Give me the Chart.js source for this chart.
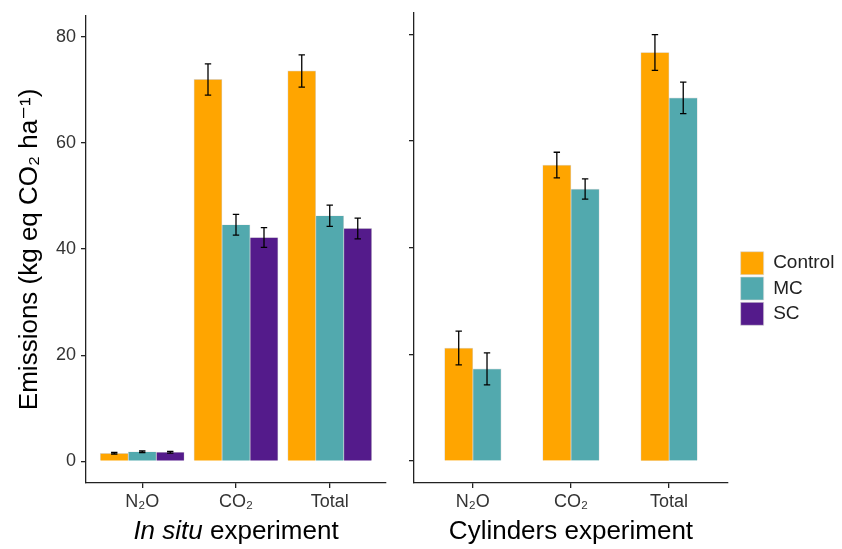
<!DOCTYPE html>
<html>
<head>
<meta charset="utf-8">
<script src="https://cdn.jsdelivr.net/npm/chart.js@4.4.1/dist/chart.umd.min.js"></script>
<style>
  html, body { margin: 0; padding: 0; background: #fff; }
  #wrap { position: relative; width: 842px; height: 549px; }
  #wrap div { position: absolute; top: 0; height: 549px; }
</style>
</head>
<body>
<div id="wrap">
  <div style="left:0;width:400px"><canvas id="insitu"></canvas></div>
  <div style="left:400px;width:442px"><canvas id="cyl"></canvas></div>
</div>
<script>
// data
const categories = ['N₂O', 'CO₂', 'Total'];
const yTicks = [0, 20, 40, 60, 80];

// in situ experiment
const controlInSitu = [1.5, 72.0, 73.6];
const controlInSituErr = [0.15, 2.95, 3.05];
const mcInSitu = [1.8, 44.6, 46.3];
const mcInSituErr = [0.15, 1.95, 2.0];
const scInSitu = [1.7, 42.2, 43.9];
const scInSituErr = [0.15, 1.85, 1.95];

// cylinders experiment (no SC)
const controlCyl = [21.2, 55.5, 76.6];
const controlCylErr = [3.15, 2.4, 3.35];
const mcCyl = [17.3, 51.0, 68.1];
const mcCylErr = [3.0, 1.9, 2.95];
const scCyl = [null, null, null];

const colors = { Control: '#FFA500', MC: '#52A9AE', SC: '#541B8B' };
const family = "'Liberation Sans', Arial, 'DejaVu Sans', sans-serif";

Chart.defaults.font.family = family;
Chart.defaults.animation = false;

// error bars on top of the bars
const errorBars = {
  id: 'errorBars',
  afterDatasetsDraw(chart) {
    const ctx = chart.ctx;
    const y = chart.scales.y;
    ctx.save();
    ctx.strokeStyle = '#000';
    ctx.lineWidth = 1.3;
    chart.data.datasets.forEach((ds, i) => {
      const meta = chart.getDatasetMeta(i);
      meta.data.forEach((bar, j) => {
        const v = ds.data[j];
        if (v == null) return;
        const e = ds.errors[j];
        const top = y.getPixelForValue(v + e);
        const bot = y.getPixelForValue(v - e);
        ctx.beginPath();
        ctx.moveTo(bar.x, top); ctx.lineTo(bar.x, bot);
        ctx.moveTo(bar.x - 3.2, top); ctx.lineTo(bar.x + 3.2, top);
        ctx.moveTo(bar.x - 3.2, bot); ctx.lineTo(bar.x + 3.2, bot);
        ctx.stroke();
      });
    });
    ctx.restore();
  }
};

// x axis title with mixed italic / normal parts
const xTitle = {
  id: 'xTitle',
  afterDraw(chart, args, opts) {
    const ctx = chart.ctx;
    const a = chart.chartArea;
    ctx.save();
    ctx.fillStyle = '#000';
    ctx.textBaseline = 'middle';
    const fonts = opts.parts.map(p => (p.italic ? 'italic ' : '') + '26px ' + family);
    const widths = opts.parts.map((p, i) => { ctx.font = fonts[i]; return ctx.measureText(p.text).width; });
    let x = (a.left + a.right) / 2 - widths.reduce((s, w) => s + w, 0) / 2;
    const y = chart.scales.x.top + 48.7;
    opts.parts.forEach((p, i) => {
      ctx.font = fonts[i];
      ctx.fillText(p.text, x, y);
      x += widths[i];
    });
    ctx.restore();
  }
};

// move the legend next to the panel like in ggplot
const legendNudge = {
  id: 'legendNudge',
  afterLayout(chart, args, opts) {
    const l = chart.legend;
    if (!l) return;
    l.left += opts.dx; l.right += opts.dx;
    l.top += opts.dy; l.bottom += opts.dy;
  }
};

function xScale(height) {
  return {
    type: 'category',
    offset: true,
    border: { color: '#222', width: 1.3 },
    grid: { drawOnChartArea: false, offset: false, tickLength: 5, color: '#222', lineWidth: 1.3 },
    ticks: { color: '#333', font: { size: 18 }, padding: 3 },
    // ggplot discrete axis: 0.6 of a category on each side
    afterBuildTicks: s => { s._startValue = -0.6; s._valueRange = 3.2; },
    afterFit: s => { s.height = height; }
  };
}

function yScale(width, showLabels) {
  return {
    min: -4.1,
    max: 84,
    border: { color: '#222', width: 1.3 },
    grid: { drawOnChartArea: false, tickLength: 5, color: '#222', lineWidth: 1.3 },
    ticks: { display: showLabels, color: '#333', font: { size: 18 }, padding: 5 },
    title: {
      display: showLabels,
      text: 'Emissions (kg eq CO₂ ha⁻¹)',
      color: '#000',
      font: { size: 26 },
      padding: { top: 14, bottom: 0 }
    },
    afterBuildTicks: s => { s.ticks = yTicks.map(v => ({ value: v })); },
    afterFit: s => { s.width = width; }
  };
}

function bars(label, data, errors, thickness) {
  return {
    label: label,
    data: data,
    errors: errors,
    backgroundColor: colors[label],
    borderColor: 'rgba(215,215,215,0.9)',
    borderWidth: 0.7,
    barThickness: thickness
  };
}

new Chart(document.getElementById('insitu'), {
  type: 'bar',
  data: {
    labels: categories,
    datasets: [
      bars('Control', controlInSitu, controlInSituErr, 28),
      bars('MC', mcInSitu, mcInSituErr, 28),
      bars('SC', scInSitu, scInSituErr, 28)
    ]
  },
  options: {
    responsive: true,
    maintainAspectRatio: false,
    layout: { padding: { top: 13, right: 14, left: 0, bottom: 0 } },
    scales: { x: xScale(66), y: yScale(86, true) },
    plugins: {
      legend: { display: false },
      tooltip: { enabled: false },
      xTitle: { parts: [{ text: 'In situ', italic: true }, { text: ' experiment' }] }
    }
  },
  plugins: [errorBars, xTitle]
});

new Chart(document.getElementById('cyl'), {
  type: 'bar',
  data: {
    labels: categories,
    datasets: [
      bars('Control', controlCyl, controlCylErr, 28.3),
      bars('MC', mcCyl, mcCylErr, 28.3),
      bars('SC', scCyl, [0, 0, 0], 28.3)
    ]
  },
  options: {
    responsive: true,
    maintainAspectRatio: false,
    skipNull: true,
    layout: { padding: { top: 13, right: 8, left: 0, bottom: 0 } },
    scales: { x: xScale(66), y: yScale(14, false) },
    plugins: {
      legend: {
        position: 'right',
        labels: { boxWidth: 23, boxHeight: 23, padding: 2.3, color: '#222', font: { size: 19 } }
      },
      legendNudge: { dx: 10.4, dy: 7.5 },
      tooltip: { enabled: false },
      xTitle: { parts: [{ text: 'Cylinders experiment' }] }
    }
  },
  plugins: [errorBars, xTitle, legendNudge]
});
</script>
</body>
</html>
